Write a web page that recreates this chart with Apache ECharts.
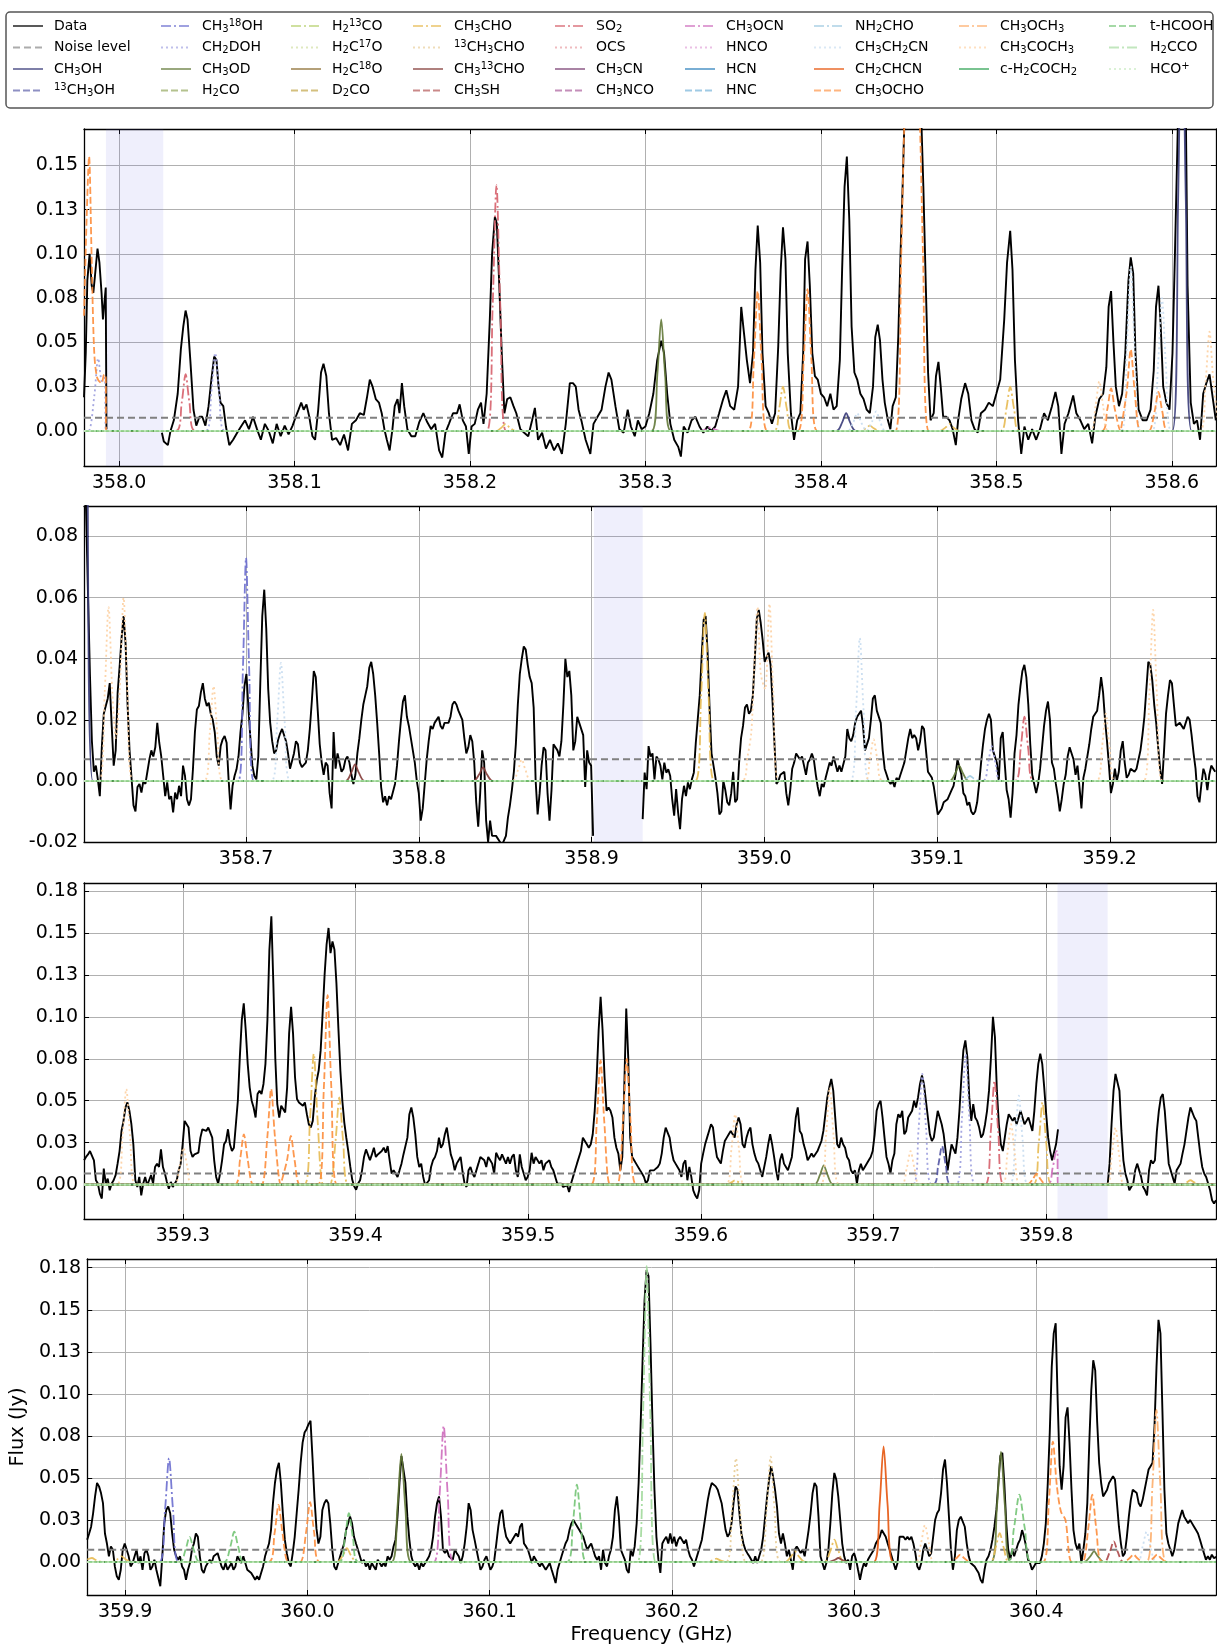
<!DOCTYPE html>
<html><head><meta charset="utf-8">
<script src="https://cdn.jsdelivr.net/npm/echarts@6/dist/echarts.min.js"></script>
<style>html,body{margin:0;padding:0;background:#fff}#c{width:1217px;height:1647px}</style>
</head><body><div id="c"></div>
<script>
// ---------------- DATA ----------------
const X_TICKS_1 = [358.0,358.1,358.2,358.3,358.4,358.5,358.6];
const X_TICKS_2 = [358.7,358.8,358.9,359.0,359.1,359.2];
const X_TICKS_3 = [359.3,359.4,359.5,359.6,359.7,359.8];
const X_TICKS_4 = [359.9,360.0,360.1,360.2,360.3,360.4];
const Y_TICKS_1 = [0,0.025,0.05,0.075,0.1,0.125,0.15];
const Y_TICKS_2 = [-0.02,0,0.02,0.04,0.06,0.08];
const Y_TICKS_3 = [0,0.025,0.05,0.075,0.1,0.125,0.15,0.175];
const Y_TICKS_4 = [0,0.025,0.05,0.075,0.1,0.125,0.15,0.175];
const X_RANGES = [[357.980,358.6252],[358.6062,359.2615],[359.2427,359.8984],[359.8792,360.4986]];
const Y_RANGES = [[-0.0198,0.1705],[-0.02,0.09],[-0.0205,0.1798],[-0.0196,0.1802]];
const SHADED = [[357.9925,358.0252],[358.9014,358.9296],[359.8066,359.8356],null];
const NOISE = [0.0075,0.0071,0.0066,0.0073];

const P1_DATA = [[357.9800,0.019],[357.9810,0.044],[357.9819,0.085],[357.9832,0.100],[357.9844,0.082],[357.9853,0.078],[357.9862,0.087],[357.9877,0.103],[357.9888,0.095],[357.9900,0.078],[357.9908,0.063],[357.9917,0.063],[357.9924,0.081],[357.9928,0.001],[358.0090,'-'],
[358.0244,-0.001],[358.0255,-0.006],[358.0278,-0.008],[358.0293,0.000],[358.0312,0.006],[358.0334,0.021],[358.0352,0.046],[358.0366,0.059],[358.0379,0.068],[358.0390,0.063],[358.0406,0.040],[358.0424,0.012],[358.0440,0.003],[358.0458,0.008],[358.0474,0.008],[358.0492,0.003],[358.0510,0.014],[358.0526,0.029],[358.0542,0.042],[358.0555,0.040],[358.0567,0.025],[358.0578,0.016],[358.0594,0.014],[358.0609,0.0025],[358.0628,-0.008],[358.0650,-0.005],[358.0673,-0.001],[358.0695,0.0025],[358.0718,0.006],[358.0740,0.001],[358.0763,0.008],[358.0786,0.001],[358.0808,-0.005],[358.0831,0.004],[358.0853,0.000],[358.0876,-0.007],[358.0898,0.004],[358.0921,-0.003],[358.0944,0.003],[358.0966,-0.002],[358.0989,0.003],[358.1007,0.008],[358.1023,0.012],[358.1038,0.016],[358.1052,0.012],[358.1068,0.015],[358.1084,0.008],[358.1102,-0.003],[358.1117,-0.005],[358.1135,0.012],[358.1151,0.033],[358.1165,0.038],[358.1181,0.031],[358.1196,0.010],[358.1214,-0.005],[358.1237,-0.004],[358.1260,-0.008],[358.1282,-0.002],[358.1305,-0.011],[358.1327,0.004],[358.1350,0.006],[358.1372,0.010],[358.1395,0.009],[358.1413,0.019],[358.1429,0.029],[358.1445,0.025],[358.1463,0.018],[358.1481,0.016],[358.1497,0.010],[358.1512,0.001],[358.1526,-0.005],[358.1542,-0.011],[358.1558,0.001],[358.1571,0.014],[358.1587,0.018],[358.1598,0.010],[358.1612,0.027],[358.1625,0.014],[358.1643,0.001],[358.1666,-0.003],[358.1688,-0.003],[358.1711,0.005],[358.1734,0.010],[358.1756,0.005],[358.1779,0.001],[358.1801,0.004],[358.1824,-0.011],[358.1842,-0.015],[358.1860,-0.001],[358.1880,0.004],[358.1903,0.010],[358.1926,0.010],[358.1941,0.015],[358.1959,0.006],[358.1977,0.0025],[358.1993,-0.013],[358.2009,0.0025],[358.2027,0.004],[358.2045,0.012],[358.2063,0.016],[358.2077,0.004],[358.2095,0.021],[358.2113,0.063],[358.2126,0.100],[358.2142,0.121],[358.2153,0.117],[358.2167,0.082],[358.2181,0.044],[358.2196,0.010],[358.2212,0.018],[358.2230,0.019],[358.2248,0.014],[358.2264,0.010],[358.2287,0.001],[358.2309,-0.001],[358.2332,-0.003],[358.2354,0.006],[358.2370,0.013],[358.2388,-0.005],[358.2411,-0.001],[358.2433,-0.010],[358.2456,-0.005],[358.2479,-0.011],[358.2501,-0.007],[358.2524,-0.013],[358.2546,0.004],[358.2569,0.027],[358.2587,0.027],[358.2603,0.025],[358.2619,0.012],[358.2637,0.005],[358.2659,-0.005],[358.2686,-0.013],[358.2704,0.004],[358.2727,0.008],[358.2750,0.012],[358.2772,0.025],[358.2790,0.033],[358.2806,0.029],[358.2829,0.014],[358.2851,0.001],
[358.2876,-0.001],[358.2899,0.012],[358.2917,0.0025],[358.2939,-0.003],[358.2957,0.006],[358.2978,0.001],[358.3000,0.0025],[358.3022,0.010],[358.3045,0.021],[358.3067,0.040],[358.3090,0.051],[358.3106,0.044],[358.3124,0.021],[358.3142,0.004],[358.3164,-0.005],[358.3187,-0.009],[358.3202,-0.0145],[358.3218,0.0025],[358.3240,-0.001],[358.3263,0.006],[358.3285,0.008],[358.3308,0.0025],[358.3330,-0.001],[358.3353,0.0025],[358.3375,0.000],[358.3398,0.0025],[358.3420,0.010],[358.3443,0.018],[358.3461,0.023],[358.3483,0.014],[358.3506,0.012],[358.3528,0.025],[358.3546,0.070],[358.3562,0.055],[358.3578,0.040],[358.3596,0.027],[358.3613,0.044],[358.3627,0.091],[358.3640,0.116],[358.3654,0.095],[358.3667,0.044],[358.3685,0.014],[358.3703,0.010],[358.3721,0.004],[358.3739,0.010],[358.3757,0.048],[358.3771,0.091],[358.3784,0.115],[358.3798,0.097],[358.3811,0.044],[358.3829,0.010],[358.3847,-0.005],[358.3865,0.006],[358.3883,0.010],[358.3899,0.044],[358.3910,0.097],[358.3924,0.107],[358.3937,0.082],[358.3951,0.044],[358.3966,0.031],[358.3982,0.029],[358.4000,0.021],[358.4018,0.019],[358.4036,0.014],[358.4054,0.021],[358.4072,0.012],[358.4090,0.014],[358.4108,0.040],[358.4121,0.091],[358.4135,0.138],[358.4148,0.155],[358.4162,0.119],[358.4175,0.059],[358.4191,0.033],[358.4207,0.029],[358.4225,0.021],[358.4243,0.018],[358.4261,0.012],[358.4279,0.010],[358.4297,0.025],[358.4310,0.053],[358.4324,0.060],[358.4337,0.051],[358.4351,0.029],[358.4364,0.016],[358.4382,0.006],[358.4396,0.001],[358.4409,0.014],[358.4427,0.019],[358.4441,0.053],[358.4454,0.100],[358.4467,0.142],[358.4480,0.190],[358.4500,0.240],[358.4520,0.260],[358.4545,0.240],[358.4565,0.200],[358.4584,0.138],[358.4598,0.082],[358.4611,0.033],[358.4625,0.006],[358.4643,0.010],[358.4656,0.031],[358.4670,0.039],[358.4683,0.025],[358.4697,0.008],[358.4715,0.008],[358.4733,0.006],[358.4751,0.001],[358.4769,-0.008],[358.4782,0.006],[358.4800,0.018],[358.4822,0.027],[358.4840,0.021],[358.4858,0.006],[358.4876,0.001],[358.4894,-0.001],[358.4912,0.010],[358.4935,0.012],[358.4957,0.016],[358.4980,0.014],[358.5000,0.021],[358.5022,0.029],[358.5045,0.063],[358.5061,0.095],[358.5079,0.113],[358.5092,0.091],[358.5106,0.040],[358.5124,0.006],[358.5142,-0.013],[358.5160,0.0025],[358.5182,-0.005],[358.5204,0.001],[358.5227,-0.005],[358.5249,0.001],[358.5272,0.010],[358.5294,0.006],[358.5317,0.014],[358.5337,0.022],[358.5353,0.014],[358.5371,-0.013],[358.5389,0.004],[358.5411,0.010],[358.5438,0.020],[358.5456,0.010],[358.5479,0.006],[358.5501,0.001],[358.5524,0.004],[358.5546,-0.007],[358.5564,0.008],[358.5587,0.018],[358.5609,0.021],[358.5627,0.036],[358.5640,0.070],[358.5654,0.079],[358.5667,0.051],[358.5681,0.025],[358.5699,0.014],[358.5717,0.021],[358.5735,0.044],[358.5753,0.085],[358.5766,0.098],[358.5780,0.089],[358.5793,0.044],[358.5811,0.012],[358.5834,0.006],[358.5856,0.006],[358.5879,0.012],[358.5897,0.034],[358.5910,0.070],[358.5924,0.082],[358.5937,0.059],[358.5951,0.025],[358.5969,0.016],[358.5987,0.012],[358.6004,0.044],[358.6018,0.100],[358.6031,0.157],[358.6045,0.220],[358.6063,0.250],[358.6078,0.200],[358.6090,0.082],[358.6108,0.016],[358.6126,0.004],[358.6144,0.006],[358.6161,-0.005],[358.6179,0.021],[358.6197,0.027],[358.6215,0.032],[358.6233,0.019],[358.6251,0.006]];

const P2_SEG_A = {start:358.60619, step:0.00114679, flux:[
0.15,0.09,0.062,0.035,0.013,0.003,0.005,0.0005,-0.005,0.011,
0.022,0.0245,0.027,0.032,0.018,0.005,0.010,0.029,0.0375,0.047,
0.054,0.045,0.025,0.010,0.001,-0.008,-0.010,-0.002,-0.001,-0.0038,
0.000,-0.001,0.003,0.007,0.010,0.008,0.011,0.019,0.0125,0.008,
0.0016,-0.005,-0.0005,-0.006,-0.005,-0.0103,-0.0038,-0.006,-0.0016,-0.005,
0.005,0.0016,-0.006,-0.008,-0.006,0.0038,0.016,0.0234,0.0245,0.029,
0.032,0.027,0.0245,0.0256,0.022,0.020,0.016,0.008,0.005,0.0114,
0.0136,0.0147,0.0125,0.0005,-0.0093,-0.0016,0.0016,0.0038,0.008,0.016,
0.022,0.031,0.035,0.024,0.014,0.005,0.0016,0.0005,0.008,0.032,
0.054,0.0626,0.050,0.030,0.019,0.013,0.009,0.010,0.0135,0.0155,
0.017,0.017,0.013,0.009,0.004,0.004,0.009,0.013,0.012,0.006,
0.0045,0.004,0.006,0.010,0.017,0.026,0.036,0.034,0.023,0.012,
0.006,0.002,0.006,0.005,-0.004,-0.009,0.016,0.004,0.009,0.009,
0.003,0.004,0.007,0.008,0.006,0.002,-0.001,0.002,0.009,0.014,
0.020,0.025,0.028,0.031,0.037,0.039,0.035,0.028,0.019,0.009,
-0.002,-0.007,-0.005,-0.008,-0.005,-0.006,-0.006,-0.001,0.005,0.013,
0.020,0.026,0.028,0.021,0.018,0.014,0.014,0.006,0.000,-0.004,
-0.013,-0.009,-0.001,0.007,0.013,0.018,0.017,0.019,0.019,0.021,
0.018,0.017,0.019,0.019,0.019,0.021,0.025,0.026,0.025,0.023,
0.023,0.020,0.014,0.009,0.011,0.015,0.013,0.006,-0.007,-0.015,
-0.004,0.010,0.006,-0.013,-0.020,-0.013,-0.018,-0.018,-0.018,-0.018,
-0.020,-0.021,-0.021,-0.018,-0.012,-0.008,-0.003,0.003,0.012,0.025,
0.035,0.040,0.044,0.043,0.038,0.034,0.032,0.024,0.000,-0.011,
-0.004,0.005,0.011,0.010,-0.004,-0.013,-0.003,0.012,0.012,0.010,
0.008,0.013,0.025,0.040,0.034,0.036,0.028,0.010,0.013,0.021,
0.019,0.019,0.015,-0.002,0.010,0.006,0.005,-0.018]};

const P2_SEG_B = {start:358.92961, step:0.00113895, flux:[
-0.0125,0.0027,-0.0027,0.0114,0.008,0.009,0.0005,0.008,0.007,0.005,
0.0005,0.006,0.0027,0.0038,0.0016,-0.006,-0.0114,-0.0027,-0.0103,-0.0158,
-0.006,-0.0016,-0.005,-0.0005,-0.0027,0.0005,0.0027,0.0125,0.0125,0.028,
0.041,0.0528,0.054,0.042,0.024,0.009,0.005,0.001,-0.004,-0.011,
-0.010,0.000,-0.003,-0.007,-0.008,-0.004,0.003,-0.007,-0.006,0.006,
0.014,0.018,0.024,0.025,0.022,0.023,0.028,0.040,0.053,0.056,
0.0517,0.046,0.039,0.039,0.042,0.038,0.026,0.012,-0.001,0.000,
0.002,0.002,0.003,-0.004,-0.008,-0.003,0.004,0.006,0.009,0.009,
0.007,0.008,0.005,0.002,0.006,0.007,0.009,0.007,0.002,-0.002,
-0.005,-0.001,-0.002,0.001,0.001,0.006,0.005,0.008,0.008,0.003,
0.005,0.003,0.003,0.008,0.017,0.014,0.013,0.015,0.019,0.021,
0.021,0.023,0.018,0.010,0.010,0.014,0.020,0.027,0.028,0.023,
0.023,0.019,0.010,0.004,0.002,0.000,-0.001,0.000,-0.002,0.001,
0.000,0.002,0.004,0.006,0.010,0.014,0.017,0.014,0.015,0.014,
0.010,0.013,0.018,0.017,0.010,0.003,0.002,0.001,-0.002,-0.002,
-0.011,-0.011,-0.009,-0.007,-0.007,-0.006,-0.006,-0.003,-0.0016,0.002,
0.007,0.007,0.002,-0.004,-0.005,-0.008,-0.007,-0.010,-0.011,-0.010,
-0.007,-0.001,0.006,0.012,0.017,0.020,0.022,0.020,0.010,0.010,
0.006,0.000,0.014,0.016,0.006,-0.003,-0.006,-0.012,-0.004,0.009,
0.015,0.025,0.031,0.036,0.038,0.034,0.025,0.012,0.002,-0.001,
-0.004,-0.001,0.004,0.011,0.018,0.023,0.026,0.020,0.006,0.004,
-0.001,-0.005,-0.010,-0.006,-0.001,0.002,0.008,0.011,0.011,0.007,
0.002,0.005,-0.002,-0.009,0.001,0.004,0.004,0.012,0.017,0.021,
0.021,0.023,0.028,0.034,0.029,0.020,0.013,0.005,-0.004,-0.001,
0.004,0.000,0.003,0.010,0.013,0.006,0.001,0.002,0.004,0.004,
0.003,0.004,0.007,0.010,0.015,0.021,0.030,0.039,0.038,0.033,
0.025,0.019,0.011,0.004,-0.001,0.010,0.022,0.028,0.033,0.032,
0.025,0.018,0.018,0.019,0.019,0.017,0.019,0.021,0.020,0.015,
0.009,0.004,-0.005,-0.007,-0.001,0.004,0.002,-0.003,0.002,0.005,
0.004,0.003]};

const P3_SEG_A = {start:359.24274, step:0.001142, flux:[
0.0145,0.0165,0.018,0.020,0.021,0.0145,0.0026,0.0006,-0.0054,-0.0083,
0.0095,0.0006,0.0036,-0.0034,0.0006,0.0026,0.0056,0.0125,0.020,0.032,
0.038,0.046,0.049,0.044,0.036,0.024,0.0026,-0.0014,0.0046,-0.0064,
0.0006,0.0046,-0.0004,0.0026,0.0056,0.0006,0.0105,0.0125,0.0105,0.021,
0.0105,0.0066,0.0016,-0.0024,0.0016,-0.0014,-0.0024,0.0026,0.0085,0.0125,
0.024,0.038,0.039,0.034,0.020,0.0165,0.018,0.018,0.019,0.028,
0.033,0.033,0.032,0.034,0.031,0.028,0.0145,0.0046,0.0006,0.0066,
0.0145,0.024,0.026,0.033,0.024,0.020,0.022,0.036,0.050,0.076,
0.098,0.108,0.092,0.072,0.058,0.050,0.046,0.040,0.054,0.056,
0.054,0.060,0.072,0.098,0.140,0.160,0.120,0.075,0.048,0.040,
0.047,0.048,0.043,0.058,0.090,0.106,0.090,0.064,0.051,0.049,
0.048,0.047,0.049,0.042,0.036,0.034,0.038,0.052,0.062,0.068,
0.080,0.102,0.125,0.143,0.153,0.138,0.145,0.140,0.120,0.093,
0.068,0.050,0.037,0.028,0.020,0.011,0.003,-0.001,-0.003,
0.0006,0.0026,0.0085,0.0165,0.021,0.020,0.0145,0.018,0.022,0.0165,
0.018,0.0175,0.020,0.022,0.019,0.023,0.0145,0.0066,0.0085,0.0066,
0.0046,0.0085,0.0125,0.018,0.018,0.028,0.042,0.046,0.040,0.030,
0.0165,0.0105,0.0125,0.0046,-0.0004,0.0006,0.0026,0.0105,0.0145,0.0165,
0.020,0.028,0.022,0.024,0.030,0.034,0.026,0.018,0.0145,0.0085,
0.0125,0.0145,0.0165,0.0075,0.0006,-0.0014,0.0085,0.0105,0.0066,0.0046,
0.0046,0.0125,0.0165,0.0175,0.0145,0.0105,0.0165,0.0145,0.0125,0.0066,
0.019,0.0165,0.0145,0.018,0.0175,0.0125,0.0165,0.0125,0.0165,0.018,
0.0085,0.0046,0.018,0.0105,0.0066,0.0026,0.0046,0.0085,0.019,0.0125,
0.0165,0.0145,0.0125,0.0145,0.0085,0.0125,0.0125,0.0145,0.0105,0.0085,
0.0046,0.0006,0.0016,0.0006,-0.0014,-0.0024,-0.0004,-0.0044,0.0006,0.0046,
0.0085,0.0125,0.0125,0.020,0.028,0.026,0.024,0.022,0.024,0.030,
0.044,0.064,0.092,0.112,0.092,0.064,0.044,0.046,0.044,0.040,
0.028,0.022,
0.0185,0.0085,0.0165,0.058,0.105,0.076,0.028,0.0165,0.0145,0.0125,
0.0125,0.0085,0.0066,0.0046,0.0006,0.0026,0.0085,0.0075,0.0085,0.0075,
0.0105,0.0125,0.0185,0.028,0.034,0.035,0.028,0.020,0.0145,0.0125,
0.0105,0.0085,0.0046,0.0125,0.0145,0.0026,0.0105,0.0046,-0.0034,-0.0064,
-0.0083,-0.0034,0.0125,0.0185,0.024,0.028,0.032,0.036,0.034,0.024,
0.0165,0.0145,0.0125,0.020,0.026,0.028,0.030,0.032,0.030,0.028,
0.036,0.040,0.036,0.024,0.022,0.028,0.032,0.034,0.024,0.0185,
0.0145,0.0125,0.0085,0.0046,0.0046,0.0165,0.024,0.030,0.024,0.0165,
0.0085,0.0026,0.0145,0.0185,0.0125,0.0105,0.0085,0.0125,0.0165,0.028,
0.040,0.046,0.032,0.030,0.024,0.020,0.0145,0.0165,0.0185,0.0165,
0.0165,0.020,0.020,0.026,0.032,0.042,0.052,0.058,0.063,0.056,
0.040,0.024,0.022,0.028,0.024,0.022,0.0165,0.0145,0.0085,0.0066,
0.0085,0.0006,0.0085,0.0125,0.0085,0.0105,0.0105,0.0145,0.0165,0.020,
0.030,0.044,0.048,0.050,0.040,0.028,0.0165,0.0125,0.0066,0.0145,
0.0185,0.036,0.042,0.040,0.044,0.030,0.032,0.040,0.040,0.044,
0.050,0.046,0.052,0.060,0.065,0.060,0.050,0.040,0.030,0.026,
0.028,0.036,0.044,0.040,0.036,0.030,0.020,0.0085,0.0165,0.024,
0.024,0.0185,0.028,0.044,0.064,0.080,0.086,0.076,0.052,0.038,
0.048,0.040,0.038,0.034,0.028,0.030,0.036,0.044,0.056,0.076,
0.100,0.088,0.056,0.036,0.024,0.020,0.028,0.036,0.042,0.040,
0.038,0.040,0.036,0.040,0.044,0.040,0.036,0.038,0.040,0.036,
0.032,0.044,0.060,0.072,0.078,0.072,0.058,0.042,0.028,0.020,
0.0145,0.0145,0.024,0.033]};

const P3_SEG_B = {start:359.83562, step:0.0011416, flux:[
-0.0004,0.0125,0.036,0.056,0.066,0.067,0.056,0.032,0.0145,0.0066,
0.0026,-0.0034,-0.0034,0.0006,0.0085,0.0125,0.0125,0.0046,-0.0014,-0.0034,
-0.0064,0.0085,0.0145,0.0125,0.0145,0.032,0.044,0.052,0.054,0.044,
0.028,0.0125,0.0085,0.0046,0.0006,0.0085,0.0105,0.0125,0.0185,0.024,
0.032,0.040,0.046,0.046,0.040,0.038,0.028,0.0185,0.0105,0.0066,
0.0046,0.0006,-0.0034,-0.0093,-0.0113,-0.0093]};

const P4_SEG = {start:359.87918, step:0.0010846, flux:[
0.0133,0.017,0.021,0.029,0.039,0.047,0.045,0.041,0.035,0.017,
0.011,0.0034,0.0093,0.0073,-0.0026,-0.0085,-0.0105,-0.0046,0.0073,0.011,
0.0073,0.0034,-0.0026,-0.0006,0.0034,0.0073,-0.0006,0.0034,-0.0046,0.0053,
0.0073,0.0034,-0.0046,-0.0026,0.0014,-0.0046,-0.0046,-0.0144,0.0034,0.023,
0.031,0.033,0.029,0.017,0.0073,0.0034,0.0014,0.0034,-0.0026,-0.0046,
-0.0105,-0.0046,-0.0006,0.0073,0.011,0.017,0.015,0.0034,-0.0046,-0.0065,
-0.0026,-0.0006,0.0014,-0.0006,0.0034,0.0034,0.0053,0.0014,-0.0026,-0.0046,
-0.0006,-0.0046,-0.0026,-0.0006,-0.0046,-0.0026,0.0034,0.0014,-0.0006,0.0034,
-0.0006,-0.0046,-0.0046,-0.0065,-0.0085,-0.0105,-0.0085,-0.0105,-0.0065,-0.0026,
0.0034,0.0073,0.011,0.019,0.035,0.047,0.055,0.059,0.047,0.029,
0.0133,0.0053,-0.0006,-0.0026,0.0053,0.015,0.029,0.043,0.059,0.071,
0.077,0.079,0.082,0.084,0.062,0.038,0.020,0.011,0.015,0.031,
0.035,0.037,0.035,0.023,0.0073,-0.0026,-0.0046,-0.0006,0.0034,0.0073,
0.011,0.019,0.023,0.027,0.023,0.015,0.011,0.0073,0.0034,-0.0006,
0.0014,-0.0026,-0.0006,-0.0046,-0.0006,-0.0026,-0.0046,0.0014,-0.0006,-0.0026,
-0.0006,-0.0026,0.0034,0.0014,0.0034,0.0093,0.0133,0.027,0.047,0.063,
0.063,0.047,0.027,0.0133,0.0034,-0.0006,-0.0026,-0.0006,-0.0046,-0.0006,
-0.0026,-0.0006,0.0014,0.0034,0.0073,0.015,0.027,0.035,0.039,0.027,
0.0073,0.0053,0.0073,0.0034,0.0034,0.0014,0.0073,0.0053,0.0034,-0.0006,
0.0034,0.011,0.021,0.035,0.031,0.019,0.0133,0.0073,0.0014,-0.0046,
-0.0026,0.0014,0.0034,-0.0006,-0.0046,-0.0026,0.0014,0.011,0.021,0.029,
0.031,0.021,0.015,0.015,0.011,0.011,0.015,0.017,0.015,0.021,
0.023,0.011,0.0093,0.0073,0.0034,-0.0006,0.0034,0.0014,-0.0006,-0.0026,
-0.0006,-0.0026,-0.0046,-0.0026,-0.0006,-0.0046,-0.0085,-0.0125,-0.0046,-0.0006,
0.0034,0.0073,0.011,0.0133,0.019,0.023,0.025,0.023,0.021,0.019,
0.017,0.015,0.011,0.0073,0.0093,0.011,0.0073,0.0034,0.0014,0.0034,
-0.0046,0.0073,-0.0006,-0.0026,0.0034,0.0073,0.015,0.031,0.039,0.027,
0.0073,
0.0073,0.0014,-0.0046,-0.0065,0.0073,0.0034,0.0093,0.023,0.047,0.081,
0.120,0.156,0.1736,0.170,0.130,0.083,0.043,0.015,0.0014,-0.0065,
0.011,0.0133,0.015,0.011,0.017,0.011,0.015,0.0093,0.0133,0.015,
0.015,0.011,0.0133,0.0073,0.0034,0.0014,-0.0026,0.0014,0.0053,0.0093,
0.0133,0.021,0.029,0.037,0.043,0.047,0.047,0.045,0.043,0.039,
0.035,0.027,0.019,0.015,0.017,0.023,0.035,0.045,0.043,0.029,
0.017,0.011,0.0073,0.0053,0.0034,0.0014,-0.0006,0.0034,-0.0006,0.0034,
0.0073,0.015,0.027,0.039,0.049,0.057,0.051,0.043,0.033,0.017,
0.011,0.017,0.011,0.0034,0.0073,0.0014,-0.0046,0.0073,0.0093,0.0073,
0.0053,0.0073,0.0034,0.011,0.019,0.029,0.041,0.047,0.045,0.027,
0.0034,-0.0006,-0.0046,-0.0006,0.0073,0.023,0.041,0.053,0.049,0.039,
0.025,0.011,0.0034,-0.0006,0.0014,-0.0046,0.0034,0.0053,0.0014,-0.0046,
-0.0105,-0.0046,-0.0006,-0.0026,0.0014,0.0034,0.0034,0.0073,0.011,0.011,
0.015,0.019,0.019,0.015,0.011,0.0073,0.0034,-0.0006,-0.0046,-0.0006,
0.015,0.015,0.015,0.0133,0.015,0.0133,0.015,0.011,0.0053,-0.0026,
-0.0046,-0.0006,0.0073,0.011,0.0073,0.0034,0.0053,0.015,0.025,0.029,
0.031,0.041,0.055,0.061,0.047,0.027,0.0073,-0.0046,0.0034,0.019,
0.025,0.027,0.027,0.021,0.011,0.0034,-0.0006,-0.0006,-0.0026,-0.0046,
-0.0065,-0.0105,-0.0125,-0.0046,0.0014,0.0034,0.0073,0.0133,0.021,0.031,
0.047,0.063,0.065,0.047,0.023,0.0073,0.0014,0.0073,0.0034,0.0073,
0.011,0.0133,0.019,0.015,0.0093,0.0014,-0.0006,-0.0046,-0.0026,-0.0006,
-0.0006,-0.0006,0.0034,0.011,0.023,0.047,0.077,0.116,0.136,0.142,
0.096,0.057,0.043,0.057,0.086,0.092,0.071,0.043,0.019,0.011,
0.0073,0.011,-0.0006,0.0073,0.017,0.035,0.071,0.102,0.120,0.114,
0.083,0.059,0.047,0.039,0.039,0.043,0.047,0.049,0.051,0.049,
0.035,0.021,0.011,0.0034,0.0053,0.015,0.027,0.037,0.043,0.043,
0.041,0.035,0.033,0.037,0.043,0.049,0.055,0.057,0.059,0.081,
0.116,0.144,0.136,0.090,0.043,0.017,0.011,0.0073,0.0034,0.0073,
0.015,0.023,0.027,0.031,0.027,0.025,0.023,0.025,0.023,0.021,
0.019,0.017,0.0133,0.0093,0.0053,0.0014,0.0034,0.0014,0.0044,0.0024,
0.0014,0.0034,0.0014]};

// Model spectra per panel: [species, points [GHz, Jy]]
const MODELS_1 = [
 ['CH3OCHO', [[357.9800,0.065],[357.9815,0.12],[357.9829,0.155],[357.9843,0.10],[357.9858,0.045],[357.9875,0.030],[357.9900,0.027],[357.9915,0.032],[357.9924,0.030],[357.9926,0],
   [358.3585,0],[358.3618,0.040],[358.3640,0.079],[358.3662,0.040],[358.3695,0],
   [358.3869,0],[358.3902,0.040],[358.3924,0.080],[358.3946,0.040],[358.3979,0],
   [358.4425,0],[358.4458,0.10],[358.4478,0.18],[358.4520,0.26],[358.4562,0.18],[358.4582,0.10],[358.4615,0],
   [358.5599,0],[358.5632,0.012],[358.5654,0.024],[358.5676,0.012],[358.5709,0],
   [358.5711,0],[358.5744,0.023],[358.5766,0.046],[358.5788,0.023],[358.5821,0],
   [358.5869,0],[358.5902,0.011],[358.5924,0.022],[358.5946,0.011],[358.5979,0]]],
 ['CH3COCH3', [[358.5532,0],[358.5565,0.014],[358.5587,0.028],[358.5609,0.014],[358.5642,0],
   [358.6160,0],[358.6193,0.028],[358.6215,0.056],[358.6237,0.028],[358.6270,0]]],
 ['CH2DOH', [[357.9826,0],[357.9859,0.020],[357.9881,0.041],[357.9903,0.028],[357.9918,0.030],[357.9925,0],
   [358.0493,0],[358.0526,0.022],[358.0548,0.044],[358.0570,0.022],[358.0603,0]]],
 ['SO2', [[358.0324,0],[358.0357,0.016],[358.0379,0.032],[358.0401,0.016],[358.0434,0],
   [358.2096,0],[358.2129,0.070],[358.2151,0.139],[358.2173,0.070],[358.2206,0]]],
 ['CH3OD', [[358.3035,0],[358.3068,0.032],[358.3090,0.063],[358.3112,0.032],[358.3145,0]]],
 ['CH3OH', [[358.4089,0],[358.4122,0.005],[358.4144,0.010],[358.4166,0.005],[358.4199,0],
   [358.6003,0],[358.6036,0.13],[358.6058,0.26],[358.6080,0.13],[358.6113,0]]],
 ['CH3CH2CN', [[358.4152,0],[358.4185,0.005],[358.4207,0.010],[358.4229,0.005],[358.4260,0],[358.4293,0.0055],[358.4315,0.011],[358.4337,0.0055],[358.4370,0],
   [358.5711,0],[358.5744,0.047],[358.5766,0.093],[358.5788,0.047],[358.5821,0],
   [358.5889,0],[358.5922,0.038],[358.5944,0.075],[358.5966,0.038],[358.5999,0]]],
 ['CH3CHO', [[358.2148,0],[358.2181,0.002],[358.2203,0.004],[358.2225,0.002],[358.2258,0],
   [358.3729,0],[358.3762,0.0125],[358.3784,0.025],[358.3806,0.0125],[358.3839,0],
   [358.4224,0],[358.4257,0.0015],[358.4279,0.003],[358.4301,0.0015],[358.4334,0],
   [358.4678,0],[358.4711,0.002],[358.4733,0.004],[358.4755,0.002],[358.4788,0],
   [358.5024,0],[358.5057,0.0125],[358.5079,0.025],[358.5101,0.0125],[358.5134,0]]],
 ['CH3OCN', [[358.3315,0],[358.3348,0.001],[358.3370,0.002],[358.3392,0.001],[358.3425,0]]]
];
const MODELS_2 = [
 ['CH3OH', [[358.6003,0],[358.6036,0.13],[358.6058,0.26],[358.6080,0.13],[358.6113,0]]],
 ['CH3COCH3', [[358.6149,0],[358.6182,0.029],[358.6204,0.057],[358.6226,0.029],[358.6247,0.014],[358.6269,0.030],[358.6291,0.060],[358.6313,0.030],[358.6346,0],
   [358.6757,0],[358.6790,0.0155],[358.6812,0.031],[358.6834,0.0155],[358.6867,0],
   [358.8541,0],[358.8574,0.0035],[358.8596,0.007],[358.8618,0.0035],[358.8651,0],
   [358.9870,0],[358.9903,0.008],[358.9925,0.016],[358.9940,0.035],[358.9961,0.057],[358.9980,0.035],[359.0005,0.030],[359.0030,0.058],[359.0052,0.029],[359.0085,0],
   [359.0578,0],[359.0611,0.007],[359.0633,0.0136],[359.0655,0.007],[359.0688,0],
   [359.1922,0],[359.1955,0.011],[359.1977,0.022],[359.1999,0.011],[359.2032,0],
   [359.2196,0],[359.2229,0.028],[359.2251,0.056],[359.2273,0.028],[359.2306,0]]],
 ['CH3_18OH', [[358.6955,0],[358.6982,0.037],[358.7000,0.073],[358.7018,0.037],[358.7045,0]]],
 ['CH3CH2CN', [[358.7147,0],[358.7180,0.019],[358.7202,0.0386],[358.7224,0.019],[358.7257,0],
   [359.0498,0],[359.0531,0.023],[359.0553,0.0468],[359.0575,0.023],[359.0608,0]]],
 ['CH3_13CHO', [[358.7576,0],[358.7609,0.0027],[358.7631,0.0054],[358.7653,0.0027],[358.7686,0],
   [358.8317,0],[358.8350,0.0022],[358.8372,0.0044],[358.8394,0.0022],[358.8427,0]]],
 ['CH3CHO', [[358.9601,0],[358.9634,0.0275],[358.9656,0.055],[358.9678,0.0275],[358.9711,0]]],
 ['CH2DOH', [[359.1262,0],[359.1295,0.0057],[359.1317,0.0114],[359.1339,0.0057],[359.1372,0]]],
 ['CH3OD', [[359.1073,0],[359.1106,0.0025],[359.1128,0.005],[359.1150,0.0025],[359.1183,0]]],
 ['NH2CHO', [[359.1136,0],[359.1169,0.0008],[359.1191,0.0016],[359.1213,0.0008],[359.1246,0]]],
 ['SO2', [[359.1451,0],[359.1484,0.0105],[359.1506,0.021],[359.1528,0.0105],[359.1561,0]]]
];
const MODELS_3 = [
 ['CH3COCH3', [[359.2617,0],[359.2650,0.0285],[359.2672,0.057],[359.2694,0.0285],[359.2727,0],
   [359.2948,0],[359.2981,0.011],[359.3003,0.022],[359.3025,0.011],[359.3058,0],
   [359.6144,0],[359.6177,0.021],[359.6199,0.042],[359.6221,0.021],[359.6254,0],
   [359.6692,0],[359.6725,0.029],[359.6747,0.058],[359.6769,0.029],[359.6802,0],
   [359.7160,0],[359.7193,0.010],[359.7215,0.020],[359.7237,0.010],[359.7270,0],
   [359.7742,0],[359.7775,0.018],[359.7797,0.036],[359.7819,0.018],[359.7852,0],
   [359.8347,0],[359.8380,0.017],[359.8402,0.034],[359.8424,0.017],[359.8457,0]]],
 ['CH3OCHO', [[359.3298,0],[359.3331,0.015],[359.3353,0.030],[359.3375,0.015],[359.3408,0],
   [359.3456,0],[359.3489,0.0285],[359.3511,0.057],[359.3533,0.0285],[359.3566,0],
   [359.3570,0],[359.3603,0.0145],[359.3625,0.029],[359.3647,0.0145],[359.3680,0],
   [359.3783,0],[359.3816,0.057],[359.3838,0.113],[359.3860,0.057],[359.3893,0],
   [359.5364,0],[359.5397,0.037],[359.5419,0.074],[359.5441,0.037],[359.5474,0],
   [359.5516,0],[359.5549,0.0375],[359.5571,0.075],[359.5593,0.0375],[359.5626,0],
   [359.7890,0],[359.7923,0.0033],[359.7945,0.0066],[359.7967,0.0033],[359.8000,0]]],
 ['CH3CHO', [[359.3703,0],[359.3736,0.039],[359.3758,0.078],[359.3780,0.039],[359.3813,0],
   [359.3851,0],[359.3884,0.026],[359.3906,0.052],[359.3928,0.026],[359.3961,0],
   [359.6144,0],[359.6177,0.0013],[359.6199,0.0026],[359.6221,0.0013],[359.6254,0],
   [359.7924,0],[359.7957,0.0245],[359.7979,0.049],[359.8001,0.0245],[359.8034,0],
   [359.8781,0],[359.8814,0.0013],[359.8836,0.0026],[359.8858,0.0013],[359.8891,0]]],
 ['CH2DOH', [[359.7228,0],[359.7261,0.033],[359.7283,0.066],[359.7305,0.033],[359.7338,0],
   [359.7479,0],[359.7512,0.039],[359.7534,0.078],[359.7556,0.039],[359.7589,0]]],
 ['13CH3OH', [[359.7342,0],[359.7375,0.0115],[359.7397,0.023],[359.7419,0.0115],[359.7452,0]]],
 ['SO2', [[359.7646,0],[359.7679,0.031],[359.7701,0.062],[359.7723,0.031],[359.7756,0]]],
 ['CH3CH2CN', [[359.7787,0],[359.7820,0.0265],[359.7842,0.053],[359.7864,0.0265],[359.7897,0]]],
 ['CH3OCN', [[359.8005,0],[359.8038,0.010],[359.8060,0.020],[359.8066,0.020],[359.8067,0]]],
 ['CH3OD', [[359.6657,0],[359.6690,0.0058],[359.6712,0.0115],[359.6734,0.0058],[359.6767,0]]]
];
const MODELS_4 = [
 ['CH3_18OH', [[359.9186,0],[359.9219,0.031],[359.9241,0.0617],[359.9263,0.031],[359.9296,0]]],
 ['t-HCOOH', [[359.9299,0],[359.9332,0.0075],[359.9354,0.015],[359.9376,0.0075],[359.9409,0],
   [359.9544,0],[359.9577,0.009],[359.9599,0.018],[359.9621,0.009],[359.9654,0],
   [360.0173,0],[360.0206,0.0145],[360.0228,0.029],[360.0250,0.0145],[360.0283,0],
   [360.1424,0],[360.1457,0.023],[360.1479,0.046],[360.1501,0.023],[360.1534,0],
   [360.3837,0],[360.3877,0.020],[360.3907,0.040],[360.3937,0.020],[360.3977,0]]],
 ['CH3OCHO', [[359.9787,0],[359.9820,0.017],[359.9842,0.034],[359.9864,0.017],[359.9897,0],
   [359.9960,0],[359.9993,0.0178],[360.0015,0.0356],[360.0037,0.0178],[360.0070,0],
   [360.3528,0],[360.3561,0.0022],[360.3583,0.0044],[360.3605,0.0022],[360.3638,0],
   [360.4036,0],[360.4069,0.036],[360.4091,0.0716],[360.4113,0.045],[360.4135,0.030],[360.4160,0.025],[360.4195,0],
   [360.4252,0],[360.4285,0.020],[360.4307,0.040],[360.4329,0.020],[360.4362,0],
   [360.4478,0],[360.4511,0.0022],[360.4533,0.0044],[360.4555,0.0022],[360.4588,0],
   [360.4608,0],[360.4641,0.0022],[360.4663,0.0044],[360.4685,0.0022],[360.4718,0]]],
 ['CH3OCH3', [[360.4604,0],[360.4637,0.045],[360.4659,0.0904],[360.4681,0.045],[360.4714,0]]],
 ['CH3OD', [[360.0461,0],[360.0494,0.032],[360.0516,0.0643],[360.0538,0.032],[360.0571,0],
   [360.3751,0],[360.3784,0.033],[360.3806,0.0657],[360.3828,0.033],[360.3861,0],
   [360.4262,0],[360.4295,0.0032],[360.4317,0.0063],[360.4339,0.0032],[360.4372,0]]],
 ['CH3OCN', [[360.0693,0],[360.0726,0.0405],[360.0748,0.081],[360.0770,0.0405],[360.0803,0]]],
 ['H2CCO', [[360.1812,0],[360.1842,0.088],[360.1862,0.176],[360.1882,0.088],[360.1912,0]]],
 ['CH2CHCN', [[360.3107,0],[360.3140,0.034],[360.3162,0.0687],[360.3184,0.034],[360.3217,0]]],
 ['13CH3CHO', [[360.2297,0],[360.2330,0.031],[360.2352,0.0617],[360.2374,0.031],[360.2407,0],
   [360.2487,0],[360.2520,0.031],[360.2542,0.0627],[360.2564,0.031],[360.2597,0]]],
 ['CH3CHO', [[359.8792,0.0015],[359.8818,0.0024],[359.8840,0.0012],[359.8873,0],
   [359.8925,0],[359.8958,0.0017],[359.8980,0.0034],[359.9002,0.0017],[359.9035,0],
   [360.0162,0],[360.0195,0.004],[360.0217,0.0083],[360.0239,0.004],[360.0272,0],
   [360.2189,0],[360.2222,0.001],[360.2244,0.002],[360.2266,0.001],[360.2299,0],
   [360.2621,0],[360.2654,0.0032],[360.2676,0.0063],[360.2698,0.0032],[360.2731,0],
   [360.2837,0],[360.2870,0.0067],[360.2892,0.0133],[360.2914,0.0067],[360.2947,0],
   [360.3744,0],[360.3777,0.0086],[360.3799,0.0172],[360.3821,0.0086],[360.3854,0]]],
 ['CH3COCH3', [[360.3334,0],[360.3367,0.011],[360.3389,0.022],[360.3411,0.011],[360.3444,0]]],
 ['CH3SH', [[360.4370,0],[360.4403,0.006],[360.4425,0.0123],[360.4447,0.006],[360.4480,0]]],
 ['CH3_13CHO', [[360.2859,0],[360.2892,0.0012],[360.2914,0.0024],[360.2936,0.0012],[360.2969,0]]],
 ['CH3CH2CN', [[360.4550,0],[360.4583,0.009],[360.4605,0.018],[360.4627,0.009],[360.4660,0]]]
];

// ---------------- STYLE / LAYOUT ----------------
const SPECIES = [
 ['CH3OH','#393b79','solid'],['13CH3OH','#5254a3','dashed'],['CH3_18OH','#6b6ecf','dashdot'],['CH2DOH','#9c9ede','dotted'],
 ['CH3OD','#637939','solid'],['H2CO','#8ca252','dashed'],['H2_13CO','#b5cf6b','dashdot'],['H2C17O','#cedb9c','dotted'],
 ['H2C18O','#8c6d31','solid'],['D2CO','#bd9e39','dashed'],['CH3CHO','#e7ba52','dashdot'],['13CH3CHO','#e7cb94','dotted'],
 ['CH3_13CHO','#843c39','solid'],['CH3SH','#ad494a','dashed'],['SO2','#d6616b','dashdot'],['OCS','#e7969c','dotted'],
 ['CH3CN','#7b4173','solid'],['CH3NCO','#a55194','dashed'],['CH3OCN','#ce6dbd','dashdot'],['HNCO','#de9ed6','dotted'],
 ['HCN','#3182bd','solid'],['HNC','#6baed6','dashed'],['NH2CHO','#9ecae1','dashdot'],['CH3CH2CN','#c6dbef','dotted'],
 ['CH2CHCN','#e6550d','solid'],['CH3OCHO','#fd8d3c','dashed'],['CH3OCH3','#fdae6b','dashdot'],['CH3COCH3','#fdd0a2','dotted'],
 ['c-H2COCH2','#31a354','solid'],['t-HCOOH','#74c476','dashed'],['H2CCO','#a1d99b','dashdot'],['HCO+','#c7e9c0','dotted']
];
const DASH = {solid:'solid', dashed:[7,3], dashdot:[10,3,2,3], dotted:[2,3]};
const LABELS = {
 'CH3OH':'CH{s|3}OH','13CH3OH':'{p|13}CH{s|3}OH','CH3_18OH':'CH{s|3}{p|18}OH','CH2DOH':'CH{s|2}DOH',
 'CH3OD':'CH{s|3}OD','H2CO':'H{s|2}CO','H2_13CO':'H{s|2}{p|13}CO','H2C17O':'H{s|2}C{p|17}O',
 'H2C18O':'H{s|2}C{p|18}O','D2CO':'D{s|2}CO','CH3CHO':'CH{s|3}CHO','13CH3CHO':'{p|13}CH{s|3}CHO',
 'CH3_13CHO':'CH{s|3}{p|13}CHO','CH3SH':'CH{s|3}SH','SO2':'SO{s|2}','OCS':'OCS',
 'CH3CN':'CH{s|3}CN','CH3NCO':'CH{s|3}NCO','CH3OCN':'CH{s|3}OCN','HNCO':'HNCO',
 'HCN':'HCN','HNC':'HNC','NH2CHO':'NH{s|2}CHO','CH3CH2CN':'CH{s|3}CH{s|2}CN',
 'CH2CHCN':'CH{s|2}CHCN','CH3OCHO':'CH{s|3}OCHO','CH3OCH3':'CH{s|3}OCH{s|3}','CH3COCH3':'CH{s|3}COCH{s|3}',
 'c-H2COCH2':'c-H{s|2}COCH{s|2}','t-HCOOH':'t-HCOOH','H2CCO':'H{s|2}CCO','HCO+':'HCO{p|+}'
};
const LEG_COLS = [
 ['Data','Noise level','CH3OH','13CH3OH'],
 ['CH3_18OH','CH2DOH','CH3OD','H2CO'],
 ['H2_13CO','H2C17O','H2C18O','D2CO'],
 ['CH3CHO','13CH3CHO','CH3_13CHO','CH3SH'],
 ['SO2','OCS','CH3CN','CH3NCO'],
 ['CH3OCN','HNCO','HCN','HNC'],
 ['NH2CHO','CH3CH2CN','CH2CHCN','CH3OCHO'],
 ['CH3OCH3','CH3COCH3','c-H2COCH2'],
 ['t-HCOOH','H2CCO','HCO+']
];
const LEG_X = [12,160,290,412,554,684,813,958,1108];
const LAYOUT = [{top:129,height:337},{top:506,height:336},{top:883,height:336},{top:1259,height:336}];

// ---------------- BUILD ----------------
function segPoints(seg){ return seg.flux.map((v,i)=>[seg.start+i*seg.step, v]); }
const DATA_BY_PANEL = [
  P1_DATA,
  segPoints(P2_SEG_A).concat([[358.915,'-']], segPoints(P2_SEG_B)),
  segPoints(P3_SEG_A).concat([[359.821,'-']], segPoints(P3_SEG_B)),
  segPoints(P4_SEG)
];
const MODELS = [MODELS_1, MODELS_2, MODELS_3, MODELS_4];
const X_TICKS = [X_TICKS_1, X_TICKS_2, X_TICKS_3, X_TICKS_4];
const Y_TICKS = [Y_TICKS_1, Y_TICKS_2, Y_TICKS_3, Y_TICKS_4];

const FONT = 'DejaVu Sans';
const grids = [], xAxes = [], yAxes = [], series = [];
const yFmt = v => (Math.round(v*100 + 1e-7)/100).toFixed(2);

for (let p = 0; p < 4; p++) {
  const xr = X_RANGES[p], yr = Y_RANGES[p];
  grids.push({left:84, right:1, top:LAYOUT[p].top, height:LAYOUT[p].height});
  const frame = {show:true, onZero:false, lineStyle:{color:'#000', width:1.3}};
  const isLast = p === 3;
  xAxes.push({
    type:'value', gridIndex:p, min:xr[0], max:xr[1], position:'bottom',
    axisLine:frame,
    axisTick:{show:true, inside:true, length:5, customValues:X_TICKS[p], lineStyle:{color:'#000', width:1}},
    axisLabel:{show:true, customValues:X_TICKS[p], formatter:v=>v.toFixed(1), fontSize:19, color:'#000', margin:8, fontFamily:FONT},
    splitLine:{show:true, lineStyle:{color:'#b0b0b0', width:1}},
    name: isLast ? 'Frequency (GHz)' : '', nameLocation:'middle', nameGap:30,
    nameTextStyle:{fontSize:19.5, color:'#000', fontFamily:FONT}
  });
  xAxes.push({
    type:'value', gridIndex:p, min:xr[0], max:xr[1], position:'top',
    axisLine:frame,
    axisTick:{show:true, inside:true, length:5, customValues:X_TICKS[p], lineStyle:{color:'#000', width:1}},
    axisLabel:{show:false, customValues:X_TICKS[p]},
    splitLine:{show:false}
  });
  yAxes.push({
    type:'value', gridIndex:p, min:yr[0], max:yr[1], position:'left',
    axisLine:frame,
    axisTick:{show:true, inside:true, length:5, customValues:Y_TICKS[p], lineStyle:{color:'#000', width:1}},
    axisLabel:{show:true, customValues:Y_TICKS[p], formatter:yFmt, fontSize:19, color:'#000', margin:6, fontFamily:FONT},
    splitLine:{show:true, lineStyle:{color:'#b0b0b0', width:1}},
    name: isLast ? 'Flux (Jy)' : '', nameLocation:'middle', nameGap:56, nameRotate:90,
    nameTextStyle:{fontSize:19.5, color:'#000', fontFamily:FONT}
  });
  yAxes.push({
    type:'value', gridIndex:p, min:yr[0], max:yr[1], position:'right',
    axisLine:frame,
    axisTick:{show:true, inside:true, length:5, customValues:Y_TICKS[p], lineStyle:{color:'#000', width:1}},
    axisLabel:{show:false, customValues:Y_TICKS[p]},
    splitLine:{show:false}
  });
  const xi = 2*p, yi = 2*p;
  const dataSeries = {
    name:'Data', type:'line', xAxisIndex:xi, yAxisIndex:yi, data:DATA_BY_PANEL[p],
    symbol:'none', showSymbol:false, connectNulls:false, clip:true,
    lineStyle:{color:'#000', width:1.9}, itemStyle:{color:'#000'}, z:2, silent:true
  };
  if (SHADED[p]) {
    dataSeries.markArea = {silent:true, itemStyle:{color:'rgba(102,102,221,0.1)'},
      data:[[{xAxis:SHADED[p][0]},{xAxis:SHADED[p][1]}]]};
  }
  series.push(dataSeries);
  series.push({
    name:'Noise level', type:'line', xAxisIndex:xi, yAxisIndex:yi,
    data:[[xr[0],NOISE[p]],[xr[1],NOISE[p]]], symbol:'none', showSymbol:false,
    lineStyle:{color:'#808080', width:2, type:[7,4]}, itemStyle:{color:'#808080'}, z:3, silent:true
  });
  const models = MODELS[p];
  SPECIES.forEach(([key, color, st]) => {
    const entry = models.find(m => m[0] === key);
    const pts = entry ? entry[1].slice() : [];
    if (!pts.length || pts[0][0] > xr[0]) pts.unshift([xr[0],0]);
    if (pts[pts.length-1][0] < xr[1]) pts.push([xr[1],0]);
    series.push({
      name:key, type:'line', xAxisIndex:xi, yAxisIndex:yi, data:pts,
      symbol:'none', showSymbol:false, smooth:0.3, clip:true,
      lineStyle:{color:color, width:1.8, type:DASH[st], opacity:0.9}, itemStyle:{color:color}, z:4, silent:true
    });
  });
}

const legends = LEG_COLS.map((col, i) => ({
  data: col, orient:'vertical', left:LEG_X[i], top:18, padding:0,
  itemWidth:30, itemHeight:14, itemGap:5.5, selectedMode:false,
  formatter: n => LABELS[n] || n,
  itemStyle:{opacity:0, color:'rgba(0,0,0,0)', borderWidth:0},
  lineStyle:{width:2, opacity:0.65},
  textStyle:{fontSize:14, color:'#000', fontFamily:FONT, lineHeight:16, padding:[0,0,0,6],
    rich:{ s:{fontSize:10, lineHeight:10, verticalAlign:'bottom', fontFamily:FONT},
           p:{fontSize:10, lineHeight:10, verticalAlign:'top', fontFamily:FONT} } }
}));

const chart = echarts.init(document.getElementById('c'), null, {renderer:'canvas'});
chart.setOption({
  animation:false,
  backgroundColor:'#fff',
  textStyle:{fontFamily:FONT},
  graphic:[{type:'rect', shape:{x:6, y:12, width:1207, height:96, r:4}, style:{fill:'none', stroke:'#555', lineWidth:1.5}, z:0, silent:true}],
  legend: legends,
  grid: grids,
  xAxis: xAxes,
  yAxis: yAxes,
  series: series
});
</script>
</body></html>
